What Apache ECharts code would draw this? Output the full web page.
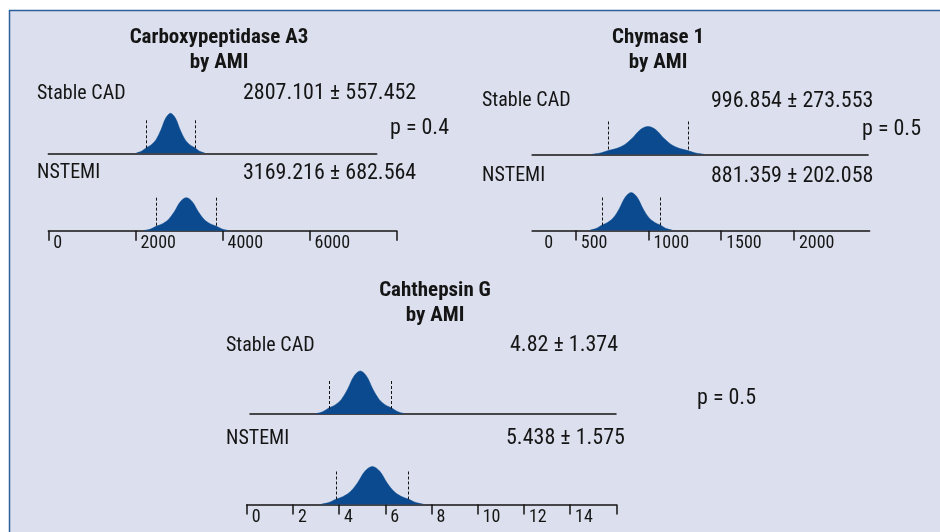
<!DOCTYPE html>
<html>
<head>
<meta charset="utf-8">
<title>Carboxypeptidase A3, Chymase 1, Cahthepsin G by AMI</title>
<script src="https://cdn.jsdelivr.net/npm/echarts@6/dist/echarts.min.js"></script>
<style>
html,body{margin:0;padding:0;background:#fff;}
#chart{width:940px;height:532px;}
</style>
</head>
<body>
<div id="chart"></div>
<script>
// texts
var panelTitles = ['Carboxypeptidase A3\nby AMI', 'Chymase 1\nby AMI', 'Cahthepsin G\nby AMI'];
var groups = ['Stable CAD', 'NSTEMI'];
var meanSd = [
  ['2807.101 \u00b1 557.452', '3169.216 \u00b1 682.564'],
  ['996.854 \u00b1 273.553', '881.359 \u00b1 202.058'],
  ['4.82 \u00b1 1.374', '5.438 \u00b1 1.575']
];
var pValues = ['p = 0.4', 'p = 0.5', 'p = 0.5'];

// density curves (x in axis units, height in px above the baseline)
var carbStableX = [2027, 2139, 2250, 2361, 2473, 2584, 2696, 2807, 2918, 3030, 3141, 3253, 3364, 3475, 3587];
var carbStableH = [0.4, 2.0, 5.6, 8.4, 13.6, 23.2, 35.2, 40, 35.2, 23.2, 13.6, 8.4, 5.6, 2.0, 0.4];
var carbNstemiX = [2213, 2350, 2486, 2623, 2759, 2896, 3032, 3169, 3306, 3442, 3579, 3715, 3852, 3988, 4125];
var carbNstemiH = [0.3, 1.7, 4.6, 6.9, 11.2, 19.1, 29.0, 33, 29.0, 19.1, 11.2, 6.9, 4.6, 1.7, 0.3];
var chymStableX = [614, 669, 723, 778, 833, 888, 942, 997, 1052, 1106, 1161, 1216, 1271, 1325, 1380];
var chymStableH = [0.3, 1.4, 3.9, 5.9, 9.5, 16.2, 24.6, 28, 24.6, 16.2, 9.5, 5.9, 3.9, 1.4, 0.3];
var chymNstemiX = [598, 639, 679, 719, 760, 800, 841, 881, 921, 962, 1002, 1043, 1083, 1123, 1164];
var chymNstemiH = [0.4, 1.9, 5.3, 8.0, 12.9, 22.0, 33.4, 38, 33.4, 22.0, 12.9, 8.0, 5.3, 1.9, 0.4];
var cathStableX = [2.896, 3.172, 3.446, 3.721, 3.996, 4.270, 4.545, 4.82, 5.095, 5.370, 5.644, 5.919, 6.194, 6.469, 6.744];
var cathStableH = [0.4, 2.2, 6.0, 9.0, 14.6, 24.9, 37.8, 43, 37.8, 24.9, 14.6, 9.0, 6.0, 2.2, 0.4];
var cathNstemiX = [3.233, 3.548, 3.863, 4.178, 4.493, 4.808, 5.123, 5.438, 5.753, 6.068, 6.383, 6.698, 7.013, 7.328, 7.643];
var cathNstemiH = [0.4, 1.9, 5.3, 8.0, 12.9, 22.0, 33.4, 38, 33.4, 22.0, 12.9, 8.0, 5.3, 1.9, 0.4];

// dashed lines at mean - sd and mean + sd
var carbStableSd = [2249.6, 3364.6];
var carbNstemiSd = [2486.7, 3851.8];
var chymStableSd = [723.3, 1270.4];
var chymNstemiSd = [679.3, 1083.4];
var cathStableSd = [3.446, 6.194];
var cathNstemiSd = [3.863, 7.013];

// ticks and tick labels
var carbTicks = [0, 2000, 4000, 6000, 8000];
var carbLabels = [0, 2000, 4000, 6000];
var chymTicks = [500, 1000, 1500, 2000];
var chymLabelAt = [250, 500, 1000, 1500, 2000];
var chymLabelText = ['0', '500', '1000', '1500', '2000'];
var cathTicks = [0, 2, 4, 6, 8, 10, 12, 14, 16];
var cathLabels = [0, 2, 4, 6, 8, 10, 12, 14];

var FONT = "'Liberation Sans Narrow', 'Roboto Condensed', 'DejaVu Sans Condensed', 'Liberation Sans', sans-serif";
var FILL = '#0b4a8e';
var INK = '#151515';

function zip(xs, hs) {
  return xs.map(function (x, i) { return [x, hs[i]]; });
}

var curves = [
  {x: carbStableX, h: carbStableH, sd: carbStableSd, left: 48.3, width: 328.4, base: 153.3, min: 0, max: 7540},
  {x: carbNstemiX, h: carbNstemiH, sd: carbNstemiSd, left: 48.3, width: 348.4, base: 230.7, min: 0, max: 8000,
   ticks: carbTicks, labels: carbLabels},
  {x: chymStableX, h: chymStableH, sd: chymStableSd, left: 532.1, width: 336, base: 154.5, min: 200, max: 2510},
  {x: chymNstemiX, h: chymNstemiH, sd: chymNstemiSd, left: 532.1, width: 337.5, base: 230.5, min: 200, max: 2520,
   ticks: chymTicks, labels: chymLabelAt, labelText: chymLabelText},
  {x: cathStableX, h: cathStableH, sd: cathStableSd, left: 250, width: 366, base: 414, min: 0, max: 16},
  {x: cathNstemiX, h: cathNstemiH, sd: cathNstemiSd, left: 246.7, width: 369.6, base: 504.5, min: 0, max: 16,
   ticks: cathTicks, labels: cathLabels}
];

var grids = [], xAxes = [], yAxes = [], series = [];
curves.forEach(function (c, i) {
  grids.push({left: c.left, top: c.base - 50, width: c.width, height: 50, containLabel: false});
  var isAxis = !!c.ticks;
  xAxes.push({
    type: 'value', gridIndex: i, min: c.min, max: c.max,
    splitLine: {show: false},
    axisLine: {show: true, onZero: false, lineStyle: {color: INK, width: 1.5}},
    axisTick: isAxis ? {show: true, length: 10, customValues: c.ticks, lineStyle: {color: INK, width: 1.5}} : {show: false},
    axisLabel: isAxis ? {
      show: true, customValues: c.labels, margin: 13, align: 'left', verticalAlign: 'middle',
      padding: [0, 0, 0, 5], fontFamily: FONT, fontSize: 18, color: INK,
      formatter: function (v) {
        if (c.labelText) return c.labelText[c.labels.indexOf(v)];
        return String(v);
      }
    } : {show: false}
  });
  yAxes.push({type: 'value', gridIndex: i, min: 0, max: 50, show: false});
  series.push({
    type: 'line', xAxisIndex: i, yAxisIndex: i,
    data: zip(c.x, c.h),
    smooth: 0.35, symbol: 'none', silent: true,
    lineStyle: {width: 0.5, color: FILL},
    areaStyle: {color: FILL, opacity: 1},
    markLine: {
      silent: true, symbol: ['none', 'none'], animation: false,
      label: {show: false},
      lineStyle: {type: [3, 2], color: INK, width: 1},
      data: c.sd.map(function (v) { return [{coord: [v, 5]}, {coord: [v, 34]}]; })
    }
  });
});

// text placement
function txt(s, x, y, opt) {
  opt = opt || {};
  return {
    type: 'text', x: x, y: y, silent: true, z: 10,
    style: {
      text: s, fill: INK, align: opt.align || 'left', verticalAlign: 'middle',
      font: (opt.bold ? 'bold ' : '') + (opt.size || 20) + 'px ' + FONT,
      lineHeight: opt.lh || undefined
    }
  };
}

var graphics = [
  {type: 'rect', z: -10, silent: true, shape: {x: 9.5, y: 10.5, width: 1000, height: 600},
   style: {fill: '#dcdfed', stroke: '#2d5f9a', lineWidth: 1.5}},
  txt(panelTitles[0], 219, 50, {bold: true, size: 21, align: 'center', lh: 25}),
  txt(panelTitles[1], 658, 50, {bold: true, size: 21, align: 'center', lh: 25}),
  txt(panelTitles[2], 435, 303, {bold: true, size: 21, align: 'center', lh: 25}),
  txt(groups[0], 37, 93.5), txt(meanSd[0][0], 243, 93.5, {size: 22}),
  txt(groups[1], 37, 173.3), txt(meanSd[0][1], 243, 173.3, {size: 22}),
  txt(pValues[0], 390, 128.3, {size: 22}),
  txt(groups[0], 482, 101.3), txt(meanSd[1][0], 711, 101.3, {size: 22}),
  txt(groups[1], 482, 176.3), txt(meanSd[1][1], 711, 176.3, {size: 22}),
  txt(pValues[1], 862, 129.3, {size: 22}),
  txt(groups[0], 226, 345.5), txt(meanSd[2][0], 510, 345.5, {size: 22}),
  txt(groups[1], 226, 438.8), txt(meanSd[2][1], 506, 438.8, {size: 22}),
  txt(pValues[2], 697, 398, {size: 22})
];

var chart = echarts.init(document.getElementById('chart'));
chart.setOption({
  backgroundColor: '#ffffff',
  animation: false,
  grid: grids,
  xAxis: xAxes,
  yAxis: yAxes,
  series: series,
  graphic: graphics
});
</script>
</body>
</html>
